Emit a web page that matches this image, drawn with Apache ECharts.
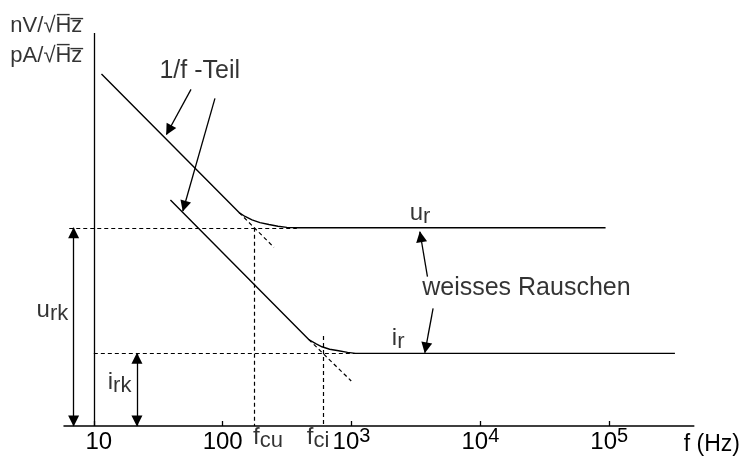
<!DOCTYPE html>
<html>
	<head>
		<meta charset="utf-8">
		<title>ECharts</title>
		<script src="https://cdn.jsdelivr.net/npm/echarts@6/dist/echarts.min.js"></script>
		<style>
			html, body { margin: 0; padding: 0; background: #fff; }
		</style>
	</head>
	<body>
		<div id="main" style="width: 743px;height: 458px;"></div>
		<script type="text/javascript">
			// frequency axis (Hz) and its labels
			var axisMinHz = 5.87;
			var axisMaxHz = 453000;
			var levelMax = 3.035; // relative noise level, decades
			var tickHz = [10, 100, 1000, 10000, 100000];
			var tickText = ['10', '100', '10^3', '10^4', '10^5'];

			// u_r : voltage noise (Hz, level)
			var uHz = [11.47, 134.1, 149.2, 169.0, 194.8, 228.6, 268.3, 314.8, 376.1, 93640];
			var uLvl = [2.718, 1.648, 1.618, 1.592, 1.571, 1.556, 1.543, 1.534, 1.531, 1.531];
			// i_r : current noise (Hz, level)
			var iHz = [39.32, 465.6, 527.2, 589.7, 676.2, 793.6, 931.4, 1074, 323400];
			var iLvl = [1.745, 0.668, 0.636, 0.612, 0.593, 0.581, 0.569, 0.561, 0.561];

			// dashed guides: [fromHz, fromLvl, toHz, toLvl]
			var guides = [
				[6.447, 1.531, 376.1, 1.531],
				[134.1, 1.648, 249.8, 1.380],
				[175.1, 1.531, 175.1, 0],
				[10, 0.561, 1074, 0.561],
				[465.6, 0.668, 994.7, 0.3475],
				[600.2, 0.695, 600.2, 0]
			];

			// arrows: [fromHz, fromLvl, toHz, toLvl, double-headed]
			var arrows = [
				[56.8, 2.600, 36.6, 2.251, false],
				[87.1, 2.5305, 49.1, 1.660, false],
				[3882, 1.153, 3393, 1.500, false],
				[4296, 0.909, 3707, 0.566, false],
				[6.97, 1.531, 6.97, 0, true],
				[21.6, 0.561, 21.6, 0, true]
			];

			// text notes
			var noteText = ['1/f -Teil', 'weisses Rauschen', 'u_rk', 'i_rk', 'u_r', 'i_r', 'f_cu', 'f_ci',
				'nV/\u221AH\u0305z\u0305', 'pA/\u221AH\u0305z\u0305'];
			var noteHz = [32.6, 3566, 3.63, 12.94, 2855, 2073, 173.6, 453.3, 8.22, 8.22];
			var noteLvl = [2.832, 1.157, 0.981, 0.422, 1.728, 0.765, 0, 0, 3.171, 2.939];
			var noteAlign = ['left', 'left', 'left', 'left', 'left', 'left', 'left', 'left', 'right', 'right'];

			var lg = Math.log10;
			var font = 'Liberation Sans, Arial, Helvetica, sans-serif';

			function pts(hz, lvl) {
				return hz.map(function (f, k) { return [lg(f), lvl[k]]; });
			}

			function richNote(t, k) {
				if (noteAlign[k] === 'right') return '{y|' + t + '}';
				var p = t.split('_');
				if (p.length === 2) return '{m|' + p[0] + '}{s|' + p[1] + '}';
				return '{p|' + t + '}';
			}

			var chartDom = document.getElementById('main');
			var myChart = echarts.init(chartDom);

			var option = {
				animation: false,
				backgroundColor: '#fff',
				textStyle: { fontFamily: font, color: '#000' },
				grid: { left: 64, right: 46, top: 33, bottom: 32 },
				xAxis: {
					type: 'value',
					min: lg(axisMinHz),
					max: lg(axisMaxHz),
					name: 'f (Hz)',
					nameLocation: 'end',
					nameGap: -10,
					nameTextStyle: {
						fontFamily: font, fontSize: 23, color: '#000',
						align: 'left', verticalAlign: 'top', lineHeight: 23, padding: [7, 0, 0, 0]
					},
					splitLine: { show: false },
					axisLine: { lineStyle: { color: '#000', width: 1.5 } },
					axisTick: {
						customValues: tickHz.map(lg),
						inside: true,
						length: 5,
						lineStyle: { color: '#000', width: 1.3 }
					},
					axisLabel: {
						customValues: tickHz.map(lg),
						margin: 0,
						color: '#000',
						formatter: function (v) {
							for (var k = 0; k < tickHz.length; k++) {
								if (Math.abs(lg(tickHz[k]) - v) < 1e-6) {
									var t = tickText[k].split('^');
									if (t.length === 2) return '{b|' + t[0] + '}{e|' + t[1] + '}';
									return k === 0 ? '{t|' + t[0] + '}' : '{b|' + t[0] + '}';
								}
							}
							return '';
						},
						rich: {
							b: { fontFamily: font, fontSize: 24, lineHeight: 32, color: '#000' },
							t: { fontFamily: font, fontSize: 24, lineHeight: 32, color: '#000', padding: [0, 0, 0, 10] },
							e: { fontFamily: font, fontSize: 20, lineHeight: 27, verticalAlign: 'top', color: '#000' }
						}
					}
				},
				yAxis: {
					type: 'value',
					min: 0,
					max: levelMax,
					show: false
				},
				series: [{
					name: 'u_r',
					type: 'line',
					data: pts(uHz, uLvl),
					showSymbol: false,
					symbol: 'none',
					lineStyle: { color: '#000', width: 1.4 },
					markLine: {
						silent: true,
						symbol: ['none', 'triangle'],
						symbolSize: 11,
						symbolOffset: [[0, 5], [0, 5]],
						label: { show: false },
						lineStyle: { color: '#000', width: 1.3, type: 'solid' },
						itemStyle: { color: '#000' },
						data: arrows.map(function (a) {
							return [
								{ coord: [lg(a[0]), a[1]], symbol: a[4] ? 'triangle' : 'none' },
								{ coord: [lg(a[2]), a[3]], symbol: 'triangle' }
							];
						})
					}
				}, {
					name: 'i_r',
					type: 'line',
					data: pts(iHz, iLvl),
					showSymbol: false,
					symbol: 'none',
					lineStyle: { color: '#000', width: 1.4 },
					markLine: {
						silent: true,
						symbol: 'none',
						label: { show: false },
						lineStyle: { color: '#000', width: 1.3, type: 'solid' },
						data: [{ xAxis: lg(tickHz[0]) }]
					}
				}, {
					name: 'guides',
					type: 'lines',
					coordinateSystem: 'cartesian2d',
					silent: true,
					lineStyle: { color: '#000', width: 1.2, type: [4, 3], opacity: 1 },
					data: guides.map(function (g) {
						return { coords: [[lg(g[0]), g[1]], [lg(g[2]), g[3]]] };
					})
				}, {
					name: 'notes',
					type: 'scatter',
					clip: false,
					silent: true,
					symbolSize: 1,
					itemStyle: { color: 'transparent' },
					data: noteText.map(function (t, k) {
						return {
							value: [lg(noteHz[k]), noteLvl[k]],
							label: {
								show: true,
								position: [0, 0],
								align: noteAlign[k],
								verticalAlign: 'top',
								formatter: richNote(t, k)
							}
						};
					}),
					label: {
						color: '#000',
						rich: {
							p: { fontFamily: font, fontSize: 25, lineHeight: 25, color: '#000' },
							m: { fontFamily: font, fontSize: 24, lineHeight: 24, verticalAlign: 'top', color: '#000' },
							s: { fontFamily: font, fontSize: 22, lineHeight: 26, verticalAlign: 'bottom', color: '#000' },
							y: { fontFamily: font, fontSize: 22, lineHeight: 22, color: '#000' }
						}
					}
				}]
			};

			option && myChart.setOption(option);
		</script>
	</body>
</html>
